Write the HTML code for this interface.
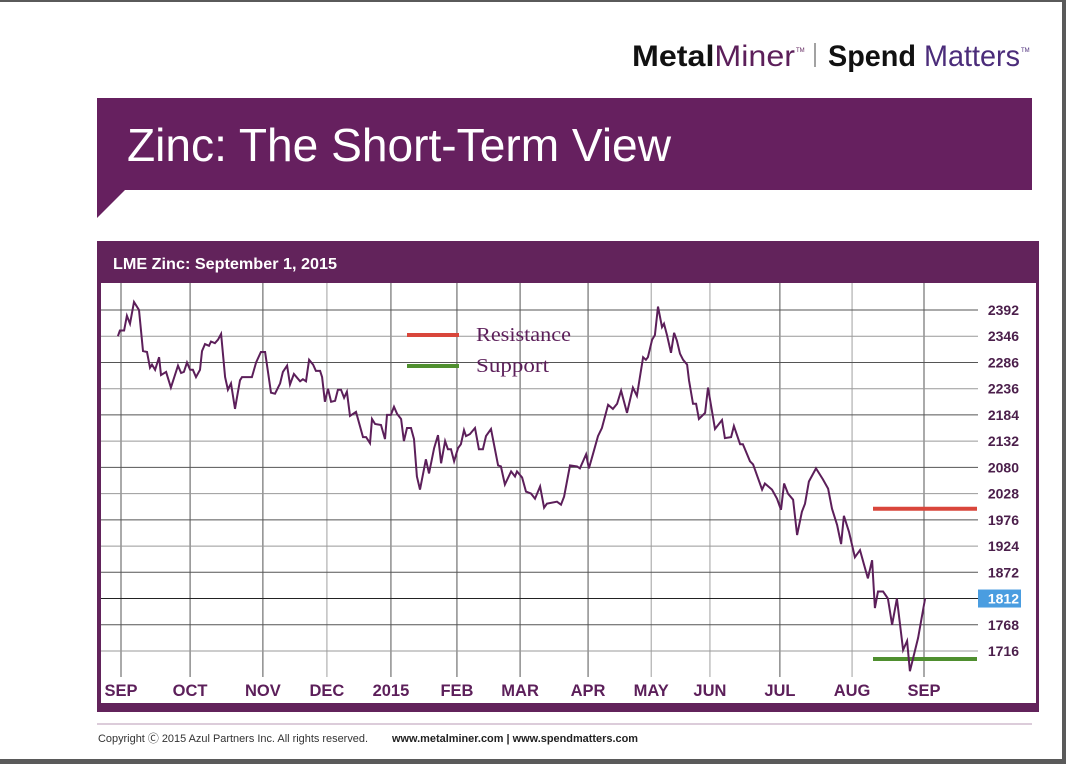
<!DOCTYPE html>
<html><head><meta charset="utf-8"><style>
body{margin:0;width:1066px;height:764px;background:#5a5a5a;overflow:hidden;font-family:"Liberation Sans",sans-serif}
#page{position:absolute;left:0;top:2px;width:1062px;height:757px;background:#fff}
svg{position:absolute;left:0;top:0}
</style></head><body>
<div id="page"></div>
<svg id="chart" width="1066" height="764">
 <text x="632" y="66" font-size="30" font-weight="bold" fill="#111" textLength="163" lengthAdjust="spacingAndGlyphs">Metal<tspan font-weight="normal" fill="#5c1f5a">Miner</tspan></text>
 <text x="796" y="52" font-size="6" fill="#5c1f5a">TM</text>
 <line x1="815" y1="43" x2="815" y2="67" stroke="#444" stroke-width="1"/>
 <text x="828" y="66" font-size="30" font-weight="bold" fill="#111" textLength="192" lengthAdjust="spacingAndGlyphs">Spend <tspan font-weight="normal" fill="#4b2c7a">Matters</tspan></text>
 <text x="1021" y="52" font-size="6" fill="#4b2c7a">TM</text>
 <polygon points="97,98 1032,98 1032,190 125,190 97,218" fill="#66205f"/>
 <text x="127" y="161" font-size="46" fill="#fff" textLength="544" lengthAdjust="spacingAndGlyphs">Zinc: The Short-Term View</text>
 <rect x="97" y="241" width="942" height="471" fill="#62235b"/>
 <rect x="101" y="283" width="935" height="420" fill="#fff"/>
 <text x="113" y="269" font-size="16" font-weight="bold" fill="#fff" textLength="224" lengthAdjust="spacingAndGlyphs">LME Zinc: September 1, 2015</text>
 <g id="grid"></g>
 <g id="levels"></g>
 <g id="series"></g>
 <g id="axes"></g>
 <line x1="407" y1="335" x2="459" y2="335" stroke="#d9463b" stroke-width="4"/>
 <text x="476" y="341" font-size="20" font-family="Liberation Serif,serif" fill="#5c1f5a" textLength="95" lengthAdjust="spacingAndGlyphs">Resistance</text>
 <line x1="407" y1="366" x2="459" y2="366" stroke="#4f8f2f" stroke-width="4"/>
 <text x="476" y="372" font-size="20" font-family="Liberation Serif,serif" fill="#5c1f5a" textLength="73" lengthAdjust="spacingAndGlyphs">Support</text>
 <line x1="97" y1="724" x2="1032" y2="724" stroke="#b89ab5" stroke-width="1"/>
 <text x="98" y="742" font-size="11" fill="#333" textLength="270" lengthAdjust="spacingAndGlyphs">Copyright Ⓒ 2015 Azul Partners Inc. All rights reserved.</text>
 <text x="392" y="742" font-size="11" font-weight="bold" fill="#222" textLength="246" lengthAdjust="spacingAndGlyphs">www.metalminer.com  |  www.spendmatters.com</text>
</svg>
<script>
const monthLabels=["SEP","OCT","NOV","DEC","2015","FEB","MAR","APR","MAY","JUN","JUL","AUG","SEP"];
const monthStartDay=[0,31.4,64.5,93.6,122.7,152.7,181.4,212.3,241,267.7,299.5,332.3,365];
const yTicks=[2392,2346,2286,2236,2184,2132,2080,2028,1976,1924,1872,1812,1768,1716];
const resistance=[1998];
const support=[1700];
const lastPrice=[1812];
const days=[-1.4,-0.5,1.4,2.7,4.1,5.9,8.2,10,11.8,13.2,14.1,15.5,17.3,18.2,20.5,22.7,25.9,27.3,28.6,30,31.4,32.7,34.1,35.9,36.8,38.2,40,40.9,42.7,44.1,45.5,47.3,48.6,50,51.8,52.7,54.1,55,59.5,61.4,63.6,65.5,68.2,70,72.3,73.6,75.5,76.8,78.6,81.4,82.7,84.1,85.5,87.3,88.6,90.5,91.4,92.7,94.1,95.5,97.3,98.6,100,101.4,102.7,104.1,106.8,110,111.4,113.2,114.1,115.5,118.2,120,120.9,122.7,124.1,125.5,127.3,128.6,130,131.8,133.2,134.5,135.9,138.6,140,142.3,144.1,145.5,147.3,148.6,150,151.4,153.2,154.5,155.9,156.8,158.6,160.9,162.7,164.5,165.9,168.2,171.4,172.7,174.5,177.3,179.1,180,182.3,184.1,186.4,188.2,190.5,192.3,193.6,198.2,200,201.4,204.1,207.3,208.6,211.4,212.7,214.5,216.8,218.6,221.4,223.6,225.5,227.3,230,232.7,234.5,237.3,238.6,239.5,241.4,242.7,244.1,245.9,246.8,248.2,250,251.4,252.7,254.1,255.5,257.3,258.2,260,261.4,262.7,265.5,266.8,270,273.2,274.5,277.3,278.6,281.4,282.7,285.9,287.3,291.4,292.7,295.9,298.2,300,301.4,303.2,305.5,307.3,309.5,310.9,312.7,315.9,319.1,321.4,323.2,325.5,327.3,328.6,330.9,333.6,335.9,337.7,339.5,341.4,342.7,344.1,346.4,348.6,350.5,352.7,355.5,357.3,358.6,362.3,365.5];
const prices=[2346,2356,2356,2382,2368,2406,2392,2312,2310,2276,2282,2272,2298,2262,2268,2238,2280,2266,2268,2286,2272,2272,2258,2272,2312,2328,2324,2334,2330,2338,2350,2258,2234,2246,2196,2218,2252,2258,2258,2286,2310,2310,2228,2226,2246,2268,2280,2244,2264,2250,2254,2250,2292,2282,2270,2270,2258,2210,2236,2210,2212,2234,2234,2218,2230,2182,2190,2140,2140,2128,2176,2166,2164,2136,2184,2184,2200,2186,2176,2132,2158,2158,2136,2062,2036,2096,2068,2118,2144,2088,2132,2116,2116,2092,2118,2126,2154,2142,2146,2158,2116,2116,2142,2156,2084,2082,2046,2072,2062,2072,2060,2032,2028,2018,2042,2000,2008,2012,2006,2022,2084,2082,2078,2106,2078,2106,2142,2158,2204,2196,2206,2232,2188,2238,2222,2298,2292,2298,2338,2348,2398,2362,2368,2348,2308,2352,2336,2306,2292,2282,2252,2206,2206,2176,2188,2238,2156,2174,2138,2140,2162,2126,2126,2092,2086,2036,2048,2036,2018,1996,2048,2028,2016,1946,1992,2008,2052,2078,2056,2038,1998,1966,1928,1984,1952,1902,1916,1888,1858,1896,1796,1828,1828,1812,1768,1812,1718,1736,1676,1742,1812];

const NS="http://www.w3.org/2000/svg";
const X0=121,XPX=2.2,Y0=310,STEP=26.23;
function xs(d){return X0+d*XPX;}
function ys(v){
  const n=yTicks.length;
  let i=0;
  if(v>=yTicks[0]) i=0;
  else if(v<=yTicks[n-1]) i=n-2;
  else { while(i<n-2 && v<yTicks[i+1]) i++; }
  const f=(yTicks[i]-v)/(yTicks[i]-yTicks[i+1]);
  return Y0+STEP*(i+f);
}
function mk(tag,attrs,parent){const e=document.createElementNS(NS,tag);for(const k in attrs)e.setAttribute(k,attrs[k]);parent.appendChild(e);return e;}
const grid=document.getElementById('grid'),axes=document.getElementById('axes'),lv=document.getElementById('levels'),ser=document.getElementById('series');
const lightV=[3,8,9,11];
monthStartDay.forEach((d,i)=>{
  const l=mk('line',{x1:xs(d),x2:xs(d),y1:283,y2:677,stroke:lightV.includes(i)?'#a0a0a0':'#555','stroke-width':1},grid);
  
  
  const t=mk('text',{x:xs(d),y:696,'text-anchor':'middle','font-size':16.5,'font-weight':'bold',fill:'#5c1f5a'},axes);
  t.textContent=monthLabels[i];
  
  
});
yTicks.forEach((v,i)=>{
  const y=ys(v);
  const l=mk('line',{x1:101,x2:978,y1:y,y2:y,stroke:v===lastPrice[0]?'#222':(i%2?'#999':'#555'),'stroke-width':1},grid);
  
  
  if(v===lastPrice[0]){
    const r=mk('rect',{x:978,y:y-9,width:43,height:18,fill:'#4a9de0'},axes);
    
    
  }
  const t=mk('text',{x:1019,y:y+5,'text-anchor':'end','font-size':14,'font-weight':'bold',fill:v===lastPrice[0]?'#fff':'#4b1f4b'},axes);
  t.textContent=v;
  
  
});
const rl=mk('line',{x1:873,x2:977,y1:ys(resistance[0]),y2:ys(resistance[0]),stroke:'#d9463b','stroke-width':4},lv);


const sl=mk('line',{x1:873,x2:977,y1:ys(support[0]),y2:ys(support[0]),stroke:'#4f8f2f','stroke-width':4},lv);


const pts=days.map((d,i)=>xs(d).toFixed(1)+','+ys(prices[i]).toFixed(1)).join(' ');
const pl=mk('polyline',{points:pts,fill:'none',stroke:'#5c1f5a','stroke-width':2,'stroke-linejoin':'miter'},ser);


</script>
</body></html>
